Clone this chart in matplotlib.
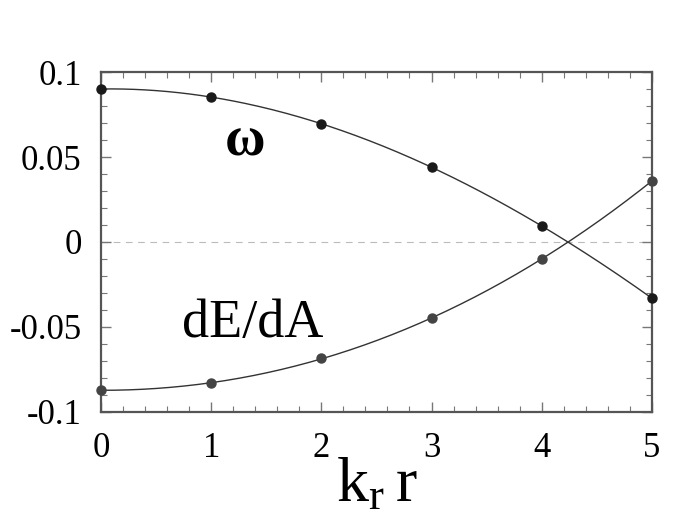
import numpy as np
import matplotlib
matplotlib.use("Agg")
import matplotlib.pyplot as plt
from matplotlib.ticker import MultipleLocator

plt.rcParams['font.family'] = ['Liberation Serif', 'DejaVu Serif']
plt.rcParams['mathtext.fontset'] = 'custom'
plt.rcParams['mathtext.rm'] = 'Liberation Serif'

# data
kr = [0, 1, 2, 3, 4, 5]
omega = [0.0901, 0.0854, 0.0695, 0.0441, 0.0093, -0.0332]
dEdA = [-0.0874, -0.0833, -0.0686, -0.0450, -0.0101, 0.0359]
yticks = [-0.1, -0.05, 0, 0.05, 0.1]
ytick_labels = ['-0.1', '-0.05', '0', '0.05', '0.1']

fig = plt.figure(figsize=(6.92, 5.31), dpi=100)
ax = fig.add_axes([0.146, 0.225, 0.796, 0.639])

# smooth fitted curves through the points
xs = np.linspace(0, 5, 200)
c_om = np.polyfit(kr, omega, 3)
c_de = np.polyfit(kr, dEdA, 3)
ax.plot(xs, np.polyval(c_om, xs), color='#333333', lw=1.0, zorder=2)
ax.plot(xs, np.polyval(c_de, xs), color='#333333', lw=1.0, zorder=2)

ax.axhline(0, color='#bbbbbb', lw=0.8, ls=(0, (6, 5)), zorder=1)

ax.plot(kr, omega, 'o', color='#1a1a1a', ms=6.5, clip_on=False, zorder=3)
ax.plot(kr, dEdA, 'o', color='#444444', ms=6.5, clip_on=False, zorder=3)

ax.set_xlim(0, 5)
ax.set_ylim(-0.1, 0.1)
ax.xaxis.set_major_locator(MultipleLocator(1))
ax.xaxis.set_minor_locator(MultipleLocator(0.2))
ax.yaxis.set_minor_locator(MultipleLocator(0.01))
ax.set_yticks(yticks)
ax.set_yticklabels(ytick_labels)

ax.tick_params(which='both', direction='in', top=True, right=True,
               color='#777777', labelsize=25)
ax.tick_params(which='major', length=7, width=1.0)
ax.tick_params(which='minor', length=4, width=0.8)
ax.tick_params(axis='x', pad=15)
ax.tick_params(axis='y', pad=14)
for s in ax.spines.values():
    s.set_color('#555555')
    s.set_linewidth(1.6)

ax.text(1.31, 0.0589, 'ω', fontsize=40, fontweight='bold', ha='center', va='center')
ax.text(1.38, -0.0562, 'dE/dA', fontsize=39, ha='center', va='baseline')
ax.text(0.50, -0.266, r'$\mathregular{k_r\,r}$', fontsize=46, ha='center', va='baseline',
        transform=ax.transAxes)

fig.savefig('out.png', dpi=100)
